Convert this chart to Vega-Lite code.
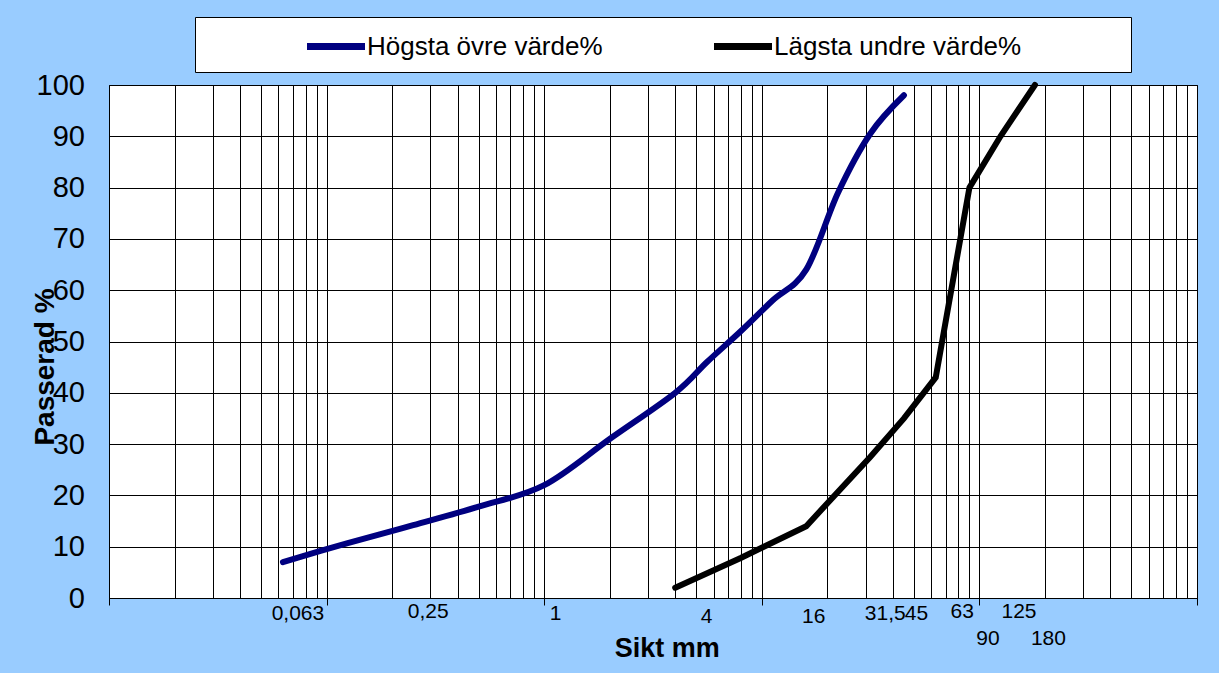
{
  "$schema": "https://vega.github.io/schema/vega-lite/v6.json",
  "width": 1088,
  "height": 513,
  "autosize": "none",
  "padding": {"left": 109, "top": 85, "right": 22, "bottom": 75},
  "background": "#99ccff",
  "config": {
    "view": {"fill": "white", "stroke": "black", "strokeWidth": 1},
    "font": "Liberation Sans"
  },
  "data": {
    "values": [
      {"serie": "Högsta övre värde%", "sikt": 0.063, "passerad": 7},
      {"serie": "Högsta övre värde%", "sikt": 0.125, "passerad": 10.7},
      {"serie": "Högsta övre värde%", "sikt": 0.25, "passerad": 14.2},
      {"serie": "Högsta övre värde%", "sikt": 0.5, "passerad": 17.8},
      {"serie": "Högsta övre värde%", "sikt": 1, "passerad": 22},
      {"serie": "Högsta övre värde%", "sikt": 2, "passerad": 31},
      {"serie": "Högsta övre värde%", "sikt": 4, "passerad": 40},
      {"serie": "Högsta övre värde%", "sikt": 5.6, "passerad": 46},
      {"serie": "Högsta övre värde%", "sikt": 8, "passerad": 52},
      {"serie": "Högsta övre värde%", "sikt": 11.2, "passerad": 58},
      {"serie": "Högsta övre värde%", "sikt": 16, "passerad": 64},
      {"serie": "Högsta övre värde%", "sikt": 22.4, "passerad": 79},
      {"serie": "Högsta övre värde%", "sikt": 31.5, "passerad": 90.5},
      {"serie": "Högsta övre värde%", "sikt": 45, "passerad": 98},
      {"serie": "Lägsta undre värde%", "sikt": 4, "passerad": 2},
      {"serie": "Lägsta undre värde%", "sikt": 8, "passerad": 7.8},
      {"serie": "Lägsta undre värde%", "sikt": 16, "passerad": 14},
      {"serie": "Lägsta undre värde%", "sikt": 31.5, "passerad": 27.5},
      {"serie": "Lägsta undre värde%", "sikt": 45, "passerad": 35},
      {"serie": "Lägsta undre värde%", "sikt": 63, "passerad": 43},
      {"serie": "Lägsta undre värde%", "sikt": 90, "passerad": 80},
      {"serie": "Lägsta undre värde%", "sikt": 125, "passerad": 90},
      {"serie": "Lägsta undre värde%", "sikt": 180, "passerad": 100}
    ]
  },
  "layer": [
    {
      "transform": [{"filter": "datum.serie == 'Högsta övre värde%'"}],
      "mark": {"type": "line", "strokeWidth": 6, "strokeCap": "round", "strokeJoin": "round", "interpolate": "cardinal"},
      "encoding": {
        "x": {
          "field": "sikt",
          "type": "quantitative",
          "scale": {"type": "log", "domain": [0.01, 1000], "nice": false},
          "axis": {
            "orient": "bottom",
            "values": [0.01, 0.02, 0.03, 0.04, 0.05, 0.06, 0.07, 0.08, 0.09, 0.1, 0.2, 0.3, 0.4, 0.5, 0.6, 0.7, 0.8, 0.9, 1, 2, 3, 4, 5, 6, 7, 8, 9, 10, 20, 30, 40, 50, 60, 70, 80, 90, 100, 200, 300, 400, 500, 600, 700, 800, 900, 1000],
            "grid": true,
            "gridColor": "black",
            "gridOpacity": 1,
            "gridWidth": 1,
            "labels": false,
            "ticks": true,
            "tickSize": 7,
            "tickColor": "black",
            "tickOpacity": {"condition": {"test": "indexof([0.01, 0.1, 1, 10, 100, 1000], datum.value) >= 0", "value": 1}, "value": 0},
            "domain": true,
            "domainColor": "black",
            "title": null
          }
        },
        "y": {
          "field": "passerad",
          "type": "quantitative",
          "scale": {"domain": [0, 100], "nice": false},
          "axis": {
            "values": [0, 10, 20, 30, 40, 50, 60, 70, 80, 90, 100],
            "grid": true,
            "gridColor": "black",
            "gridOpacity": 1,
            "ticks": false,
            "domain": false,
            "labelFontSize": 29,
            "labelColor": "black",
            "labelPadding": 24.5,
            "title": "Passerad %",
            "titleFontSize": 28,
            "titleFontWeight": "bold",
            "titleColor": "black",
            "titleAngle": -90,
            "titleX": -56,
            "titleY": 281.5,
            "titleBaseline": "alphabetic",
            "titleAlign": "center"
          }
        },
        "color": {
          "field": "serie",
          "type": "nominal",
          "scale": {"domain": ["Högsta övre värde%", "Lägsta undre värde%"], "range": ["#000080", "#000000"]},
          "legend": {
            "orient": "none",
            "legendX": 86,
            "legendY": -68,
            "direction": "horizontal",
            "title": null,
            "fillColor": "white",
            "strokeColor": "black",
            "padding": 11.5,
            "symbolType": "M-2,0L2,0",
            "symbolSize": 841,
            "symbolStrokeWidth": 7,
            "symbolOffset": 111.5,
            "labelFontSize": 26,
            "labelColor": "black",
            "labelOffset": 13,
            "labelLimit": 400,
            "columnPadding": 10,
            "encode": {
              "symbols": {
                "update": {
                  "shape": {"signal": "datum.index == 1 ? 'M-2,0L2,0M25,0' : 'M-2,0L2,0'"}
                }
              }
            }
          }
        }
      }
    },
    {
      "transform": [{"filter": "datum.serie == 'Lägsta undre värde%'"}],
      "mark": {"type": "line", "strokeWidth": 6, "strokeCap": "round", "strokeJoin": "miter"},
      "encoding": {
        "x": {
          "field": "sikt",
          "type": "quantitative",
          "scale": {"type": "log", "domain": [0.01, 1000], "nice": false},
          "axis": {
            "orient": "bottom",
            "values": [0.063, 0.25, 1, 4, 16, 31.5, 45, 63, 90, 125, 180],
            "grid": false,
            "ticks": false,
            "domain": false,
            "labelExpr": "replace(toString(datum.value), '.', ',')",
            "labelFontSize": 21,
            "labelColor": "black",
            "labelBaseline": "top",
            "labelAlign": "center",
            "labelOverlap": false,
            "labelFlush": false,
            "labelBound": false,
            "labelOffset": {
              "condition": [
                {"test": "datum.value == 1", "value": 11},
                {"test": "datum.value == 4", "value": 31},
                {"test": "datum.value == 16", "value": 7},
                {"test": "datum.value == 45", "value": 12},
                {"test": "datum.value == 63", "value": 26},
                {"test": "datum.value == 90 || datum.value == 125", "value": 18},
                {"test": "datum.value == 180", "value": 13}
              ],
              "value": 14.5
            },
            "labelPadding": {
              "condition": [
                {"test": "datum.value == 0.25 || datum.value == 63 || datum.value == 125", "value": 2},
                {"test": "datum.value == 4 || datum.value == 16", "value": 7},
                {"test": "datum.value == 90 || datum.value == 180", "value": 29}
              ],
              "value": 4.5
            },
            "title": "Sikt mm",
            "titleFontSize": 27,
            "titleFontWeight": "bold",
            "titleColor": "black",
            "titleX": 557.7,
            "titleY": 58,
            "titleBaseline": "alphabetic",
            "titleAlign": "center"
          }
        },
        "y": {
          "field": "passerad",
          "type": "quantitative",
          "scale": {"domain": [0, 100], "nice": false}
        },
        "color": {
          "field": "serie",
          "type": "nominal",
          "scale": {"domain": ["Högsta övre värde%", "Lägsta undre värde%"], "range": ["#000080", "#000000"]}
        }
      }
    }
  ],
  "resolve": {"axis": {"x": "independent"}}
}
